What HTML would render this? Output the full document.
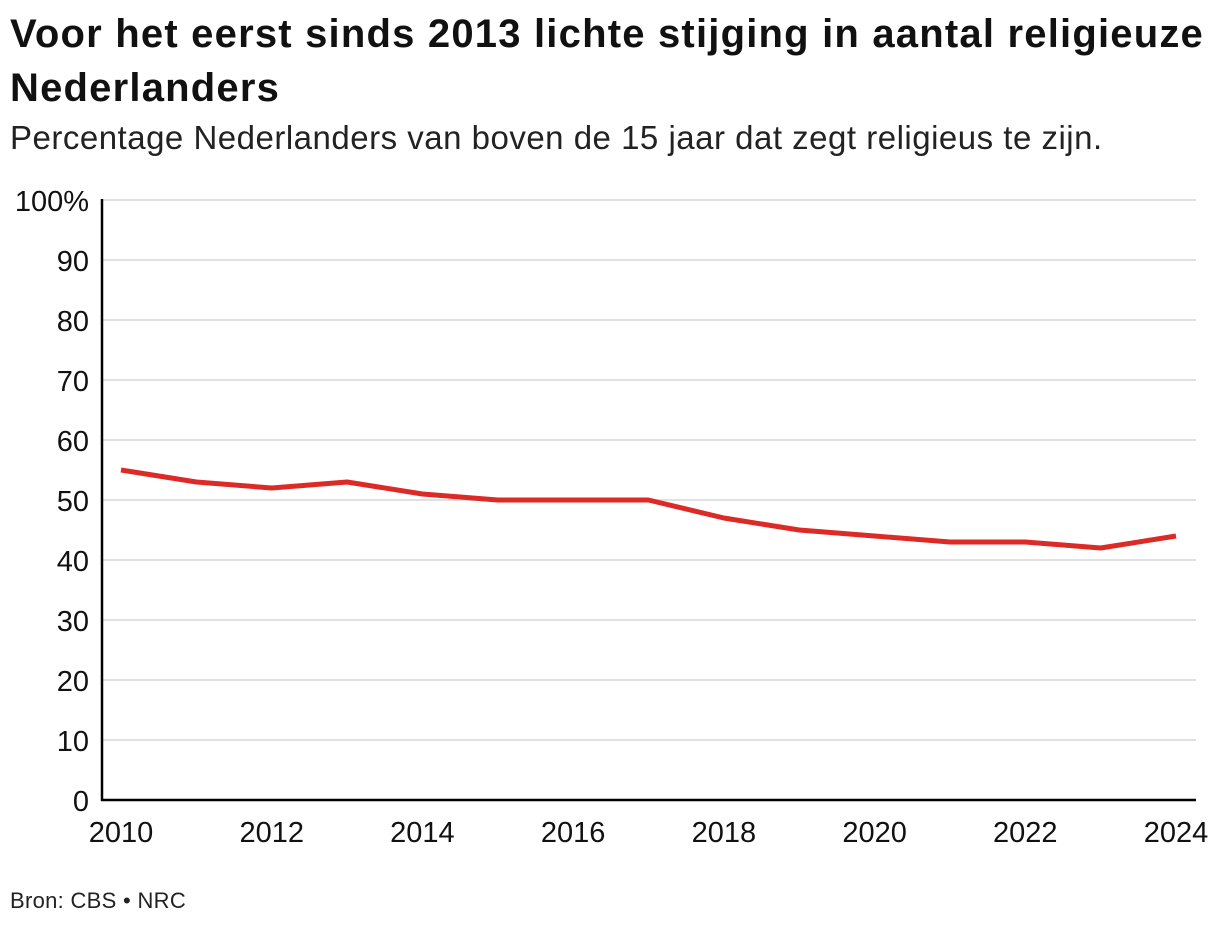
<!DOCTYPE html>
<html><head><meta charset="utf-8"><style>
body{margin:0;width:1220px;height:928px;background:#fff;font-family:"Liberation Sans",sans-serif;color:#111;overflow:hidden;position:relative}
#title{position:absolute;left:10px;top:7px;font-size:40px;font-weight:bold;line-height:54px;letter-spacing:1.2px;margin:0;white-space:nowrap}
#sub{position:absolute;left:10px;top:119px;font-size:33px;margin:0;color:#222;letter-spacing:0.5px;white-space:nowrap}
#src{position:absolute;left:10px;top:888px;font-size:22px;color:#222;letter-spacing:0.3px}
svg{position:absolute;left:0;top:0}
</style></head><body>
<h1 id="title">Voor het eerst sinds 2013 lichte stijging in aantal religieuze<br>Nederlanders</h1>
<p id="sub">Percentage Nederlanders van boven de 15 jaar dat zegt religieus te zijn.</p>
<div id="src">Bron: CBS • NRC</div>
<svg id="chart" width="1220" height="928"></svg>
<script>
const years=[2010,2011,2012,2013,2014,2015,2016,2017,2018,2019,2020,2021,2022,2023,2024];
const values=[55,53,52,53,51,50,50,50,47,45,44,43,43,42,44];
const yTicks=[0,10,20,30,40,50,60,70,80,90,100];
const xTicks=[2010,2012,2014,2016,2018,2020,2022,2024];
const NS="http://www.w3.org/2000/svg",svg=document.getElementById('chart');
const x=v=>121+(v-2010)*(1176-121)/14;
const y=v=>800-v*6;
function mk(t,a){const e=document.createElementNS(NS,t);for(const k in a)e.setAttribute(k,a[k]);svg.appendChild(e);return e;}
yTicks.forEach(t=>{
 if(t>0){const g=mk('line',{x1:102,x2:1196,y1:y(t),y2:y(t),stroke:'#e0e0e0','stroke-width':2});
 
 }
 const l=mk('text',{x:89,y:y(t)+11,'text-anchor':'end','font-size':29,fill:'#111','font-family':'Liberation Sans, sans-serif'});
 l.textContent=t===100?'100%':t;
 
 
});
const ya=mk('line',{x1:102,x2:102,y1:199,y2:801,stroke:'#000','stroke-width':2.5});


const xa=mk('line',{x1:101,x2:1196,y1:800,y2:800,stroke:'#000','stroke-width':2.5});


xTicks.forEach(t=>{
 const l=mk('text',{x:x(t),y:842,'text-anchor':'middle','font-size':29,fill:'#111','font-family':'Liberation Sans, sans-serif'});
 l.textContent=t;
 
 
});
const p=mk('polyline',{points:years.map((yr,i)=>x(yr)+','+y(values[i])).join(' '),fill:'none',stroke:'#dc2a26','stroke-width':5,'stroke-linejoin':'round'});


</script>
</body></html>
